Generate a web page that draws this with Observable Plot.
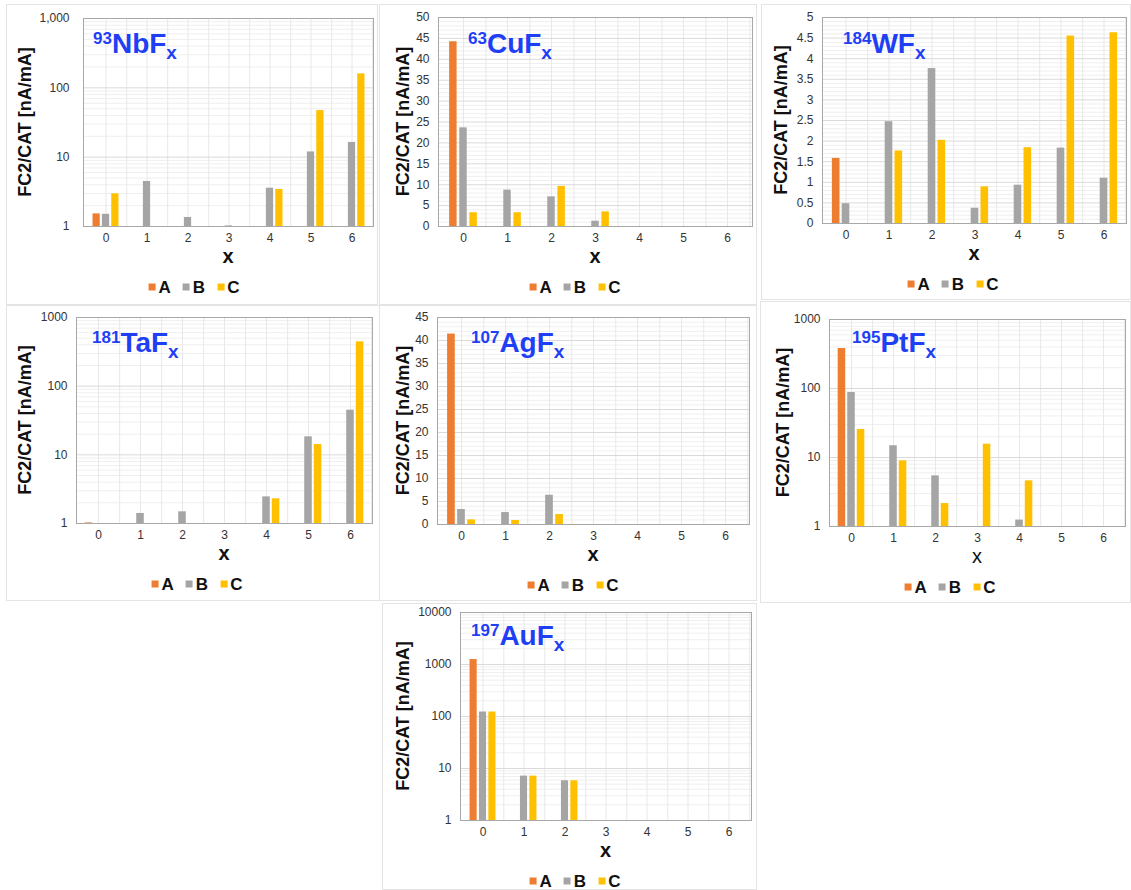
<!DOCTYPE html>
<html><head><meta charset="utf-8">
<script src="https://cdn.jsdelivr.net/npm/d3@7"></script>
<script src="https://cdn.jsdelivr.net/npm/@observablehq/plot@0.6"></script>
<style>
body{margin:0;background:#fff;font-family:"Liberation Sans",Arial,Helvetica,sans-serif;}
#root{position:relative;width:1131px;height:890px;overflow:hidden;background:#fff;}
.card{position:absolute;border:1px solid #e4e4e4;box-sizing:border-box;}
.panel{position:absolute;}
.legend{position:absolute;display:flex;align-items:center;transform:translate(-50%,-50%);font-weight:bold;font-size:17px;color:#111;white-space:nowrap;line-height:1;}
.legend .sw{display:inline-block;width:7px;height:7px;margin-right:3px;}
.legend .it{display:flex;align-items:center;margin:0 6px;}
</style></head><body><div id="root"></div>
<script>
// ---------- data ----------
const xs = [0, 1, 2, 3, 4, 5, 6];
const seriesNames = ["A", "B", "C"];
const seriesColors = ["#ED7D31", "#A5A5A5", "#FFC000"];

const nbA = [1.52, null, null, null, null, null, null];
const nbB = [1.5, 4.46, 1.35, 1.02, 3.57, 11.9, 16.3];
const nbC = [2.96, null, null, null, 3.42, 47, 159];

const cuA = [44.2, null, null, null, null, null, null];
const cuB = [23.6, 8.7, 7.1, 1.27, null, null, null];
const cuC = [3.3, 3.3, 9.6, 3.5, null, null, null];

const wA = [1.58, null, null, null, null, null, null];
const wB = [0.48, 2.47, 3.76, 0.37, 0.93, 1.83, 1.10];
const wC = [null, 1.76, 2.02, 0.89, 1.84, 4.55, 4.63];

const taA = [1.02, null, null, null, null, null, null];
const taB = [null, 1.40, 1.48, null, 2.44, 18.3, 44.7];
const taC = [null, null, null, null, 2.29, 14.1, 442];

const agA = [41.4, null, null, null, null, null, null];
const agB = [3.26, 2.6, 6.37, null, null, null, null];
const agC = [1.0, 0.87, 2.17, null, null, null, null];

const ptA = [380, null, null, null, null, null, null];
const ptB = [87.5, 14.8, 5.42, null, 1.24, null, null];
const ptC = [25.5, 8.95, 2.15, 15.6, 4.59, null, null];

const auA = [1245, null, null, null, null, null, null];
const auB = [122, 7.14, 5.81, null, null, null, null];
const auC = [122, 7.14, 5.81, null, null, null, null];

const yLabel = "FC2/CAT [nA/mA]";
const xLabel = "x";

// ---------- panels (layout in page px) ----------
const panels = [
  {iso: "93", el: "NbF", vals: [nbA, nbB, nbC], log: true, domain: [1, 1000], fmt: d3.format(","), tp: 14,
   card: [6, 4, 372, 301], L: 83, R: 373, T: 18, B: 226, title: [93, 53], ylx: 25, lgx: 194},
  {iso: "63", el: "CuF", vals: [cuA, cuB, cuC], log: false, domain: [0, 50], step: 5, minor: 1,
   card: [379, 4, 378, 301], L: 438, R: 752, T: 17, B: 226, title: [468, 53], ylx: 403, lgx: 575},
  {iso: "184", el: "WF", vals: [wA, wB, wC], log: false, domain: [0, 5], step: 0.5, minor: 0.1,
   card: [761, 4, 370, 296], L: 822, R: 1126, T: 17, B: 223, title: [843, 53], ylx: 781, lgx: 953},
  {iso: "181", el: "TaF", vals: [taA, taB, taC], log: true, domain: [1, 1000],
   card: [6, 305, 374, 296], L: 76, R: 372, T: 317, B: 523, title: [92, 352], ylx: 25, lgx: 197},
  {iso: "107", el: "AgF", vals: [agA, agB, agC], log: false, domain: [0, 45], step: 5, minor: 1,
   card: [379, 305, 378, 296], L: 437, R: 749, T: 317, B: 524, title: [471, 352], ylx: 403, lgx: 573},
  {iso: "195", el: "PtF", vals: [ptA, ptB, ptC], log: true, domain: [1, 1000], xNormal: true,
   card: [760, 301, 371, 302], L: 829, R: 1125, T: 319, B: 526, title: [852, 352], ylx: 783, lgx: 950},
  {iso: "197", el: "AuF", vals: [auA, auB, auC], log: true, domain: [1, 10000],
   card: [382, 603, 375, 287], L: 460, R: 751, T: 612, B: 820, title: [471, 645], ylx: 403, lgx: 575}
];

const FONT = '"Liberation Sans", Arial, Helvetica, sans-serif';
const root = document.getElementById("root");

function render(p) {
  const [cx, cy, cw, ch] = p.card;
  const card = document.createElement("div");
  card.className = "card";
  Object.assign(card.style, {left: cx + "px", top: cy + "px", width: cw + "px", height: ch + "px"});
  root.appendChild(card);

  const bw = (p.R - p.L) / xs.length;
  const barW = bw * 0.185;
  const off = bw * 0.226;
  const inset = (bw - barW) / 2;

  let major, minor;
  if (p.log) {
    const e0 = Math.round(Math.log10(p.domain[0])), e1 = Math.round(Math.log10(p.domain[1]));
    major = d3.range(e0, e1 + 1).map(e => Math.pow(10, e));
    minor = major.slice(0, -1).flatMap(d => d3.range(2, 10).map(m => m * d));
  } else {
    const n = Math.round(p.domain[1] / p.step);
    major = d3.range(0, n + 1).map(i => +(i * p.step).toFixed(4));
    const nm = Math.round(p.domain[1] / p.minor);
    minor = d3.range(0, nm + 1).map(i => +(i * p.minor).toFixed(4))
      .filter(v => Math.abs(v / p.step - Math.round(v / p.step)) > 1e-6);
  }
  const base = p.log ? p.domain[0] : 0;

  const barMarks = seriesNames.map((s, k) => {
    const rows = [];
    p.vals[k].forEach((v, i) => { if (v != null) rows.push({x: xs[i], v}); });
    return Plot.barY(rows, {x: "x", y1: base, y2: "v", fill: seriesColors[k],
      insetLeft: inset, insetRight: inset, dx: (k - 1) * off});
  });

  const svg = Plot.plot({
    width: cw, height: ch,
    marginLeft: p.L - cx, marginRight: cx + cw - p.R,
    marginTop: p.T - cy, marginBottom: cy + ch - p.B,
    style: {fontFamily: FONT, fontSize: "12px", color: "#333", background: "transparent", overflow: "visible"},
    x: {type: "band", domain: xs, padding: 0, tickSize: 0, tickPadding: 7, label: null},
    y: {type: p.log ? "log" : "linear", domain: p.domain, ticks: major,
        tickFormat: p.fmt || (d => String(d)), tickSize: 0, tickPadding: p.tp || 9, label: null},
    marks: [
      Plot.ruleY(minor, {stroke: "#efefef"}),
      Plot.ruleX(xs, {stroke: "#e8e8e8"}),
      Plot.ruleX(xs, {stroke: "#e8e8e8", dx: bw / 2}),
      Plot.ruleY(major, {stroke: "#dadada"}),
      ...barMarks,
      Plot.frame({stroke: "#a8a8a8"})
    ]
  });
  svg.classList.add("panel");
  svg.style.left = cx + "px";
  svg.style.top = cy + "px";
  svg.style.position = "absolute";
  root.appendChild(svg);

  const sel = d3.select(svg);
  // title with superscript / subscript
  const t = sel.append("text")
    .attr("x", p.title[0] - cx).attr("y", p.title[1] - cy)
    .attr("text-anchor", "start")
    .attr("fill", "#1f3ff5").attr("font-weight", "bold").attr("font-family", FONT);
  t.append("tspan").attr("font-size", 17).attr("dy", -9).text(p.iso);
  t.append("tspan").attr("font-size", 28).attr("dy", 9).text(p.el);
  t.append("tspan").attr("font-size", 19).attr("dy", 6).text("x");

  // y label
  sel.append("text")
    .attr("transform", `translate(${p.ylx - cx},${(p.T + p.B) / 2 - cy}) rotate(-90)`)
    .attr("text-anchor", "middle").attr("dy", "0.35em")
    .attr("font-size", 18).attr("font-weight", "bold").attr("font-family", FONT).attr("fill", "#111")
    .text(yLabel);

  // x label
  sel.append("text")
    .attr("x", (p.L + p.R) / 2 - cx).attr("y", p.B + 37 - cy)
    .attr("text-anchor", "middle")
    .attr("font-size", 20).attr("font-weight", p.xNormal ? "normal" : "bold")
    .attr("font-family", FONT).attr("fill", "#111")
    .text(xLabel);

  // legend
  const lg = document.createElement("div");
  lg.className = "legend";
  lg.style.left = p.lgx + "px";
  lg.style.top = (p.B + 61) + "px";
  seriesNames.forEach((s, k) => {
    const it = document.createElement("span");
    it.className = "it";
    const sw = document.createElement("span");
    sw.className = "sw";
    sw.style.background = seriesColors[k];
    it.appendChild(sw);
    it.appendChild(document.createTextNode(s));
    lg.appendChild(it);
  });
  root.appendChild(lg);
}

panels.forEach(render);
</script>
</body></html>
